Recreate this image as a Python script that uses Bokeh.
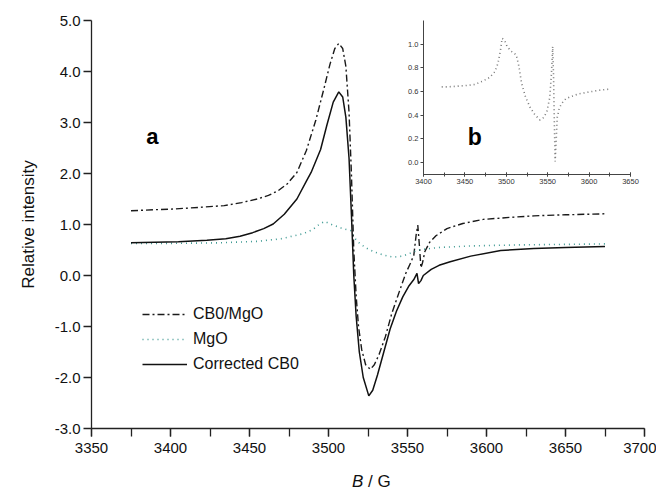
from bokeh.plotting import figure
from bokeh.models import (Range1d, SingleIntervalTicker, PrintfTickFormatter, Legend,
                          LegendItem, Label, GridBox, Div)
from bokeh.embed import file_html
from bokeh.resources import INLINE

FONT = "Liberation Sans"

# ---------------- data ----------------
cb0_mgo_B = [3375, 3390, 3400, 3420, 3434, 3445, 3455, 3462, 3468, 3474, 3480, 3486,
             3492, 3497, 3501, 3504, 3506.5, 3509, 3511, 3513, 3514.5, 3516, 3517.5,
             3519, 3521, 3523.5, 3526.5, 3529, 3532, 3536, 3540, 3545, 3549, 3552,
             3554, 3555.5, 3556.5, 3557.5, 3558.5, 3559.5, 3561, 3564, 3568, 3575,
             3585, 3598, 3615, 3630, 3650, 3675]
cb0_mgo_I = [1.27, 1.29, 1.30, 1.34, 1.37, 1.43, 1.50, 1.57, 1.66, 1.80, 2.02, 2.45,
             3.05, 3.65, 4.15, 4.45, 4.55, 4.45, 4.10, 3.20, 2.00, 0.50, -0.40,
             -1.00, -1.45, -1.75, -1.84, -1.75, -1.55, -1.20, -0.75, -0.30, 0.05, 0.25,
             0.40, 0.80, 0.99, 0.60, 0.15, 0.25, 0.47, 0.65, 0.78, 0.92,
             1.02, 1.10, 1.14, 1.17, 1.19, 1.21]

corrected_B = [3375, 3390, 3405, 3423, 3435, 3444, 3452, 3459, 3465, 3472, 3480, 3486,
               3489, 3495, 3499, 3503, 3506.5, 3509, 3511, 3513, 3514.5, 3516, 3517.5,
               3519.5, 3522, 3525.5, 3528, 3531, 3535, 3539, 3543, 3547, 3551, 3554,
               3556, 3557, 3558.5, 3560, 3565, 3570, 3577, 3590, 3609, 3630, 3650, 3675]
corrected_I = [0.64, 0.65, 0.66, 0.69, 0.72, 0.77, 0.84, 0.92, 1.01, 1.20, 1.50, 1.85,
               2.02, 2.47, 2.95, 3.40, 3.60, 3.50, 3.10, 2.30, 1.20, 0.00, -0.80,
               -1.50, -2.00, -2.36, -2.25, -1.95, -1.50, -1.05, -0.70, -0.42, -0.20, -0.08,
               0.04, -0.16, -0.10, 0.00, 0.12, 0.20, 0.27, 0.38, 0.49, 0.53, 0.55, 0.57]

mgo_B = [3375, 3400, 3430, 3455, 3470, 3484, 3490, 3494, 3497.5, 3502, 3508, 3514,
         3516, 3520, 3525, 3530, 3535, 3541, 3547, 3552, 3557, 3562, 3570, 3590,
         3620, 3650, 3675]
mgo_I = [0.63, 0.63, 0.64, 0.67, 0.72, 0.82, 0.90, 1.00, 1.06, 1.00, 0.93, 0.88,
         0.75, 0.62, 0.52, 0.45, 0.40, 0.36, 0.38, 0.44, 0.50, 0.52, 0.55, 0.58,
         0.60, 0.61, 0.62]

inset_B = [3422, 3430, 3440, 3450, 3462, 3472, 3480, 3486.5, 3490, 3493, 3495, 3498,
           3501, 3506, 3512, 3515, 3518.5, 3523, 3528.5, 3534, 3540.5, 3545, 3549,
           3552.5, 3554.5, 3556, 3557, 3558, 3559, 3560, 3561.5, 3564, 3567, 3572,
           3579, 3587, 3595, 3603, 3611, 3617, 3624]
inset_I = [0.64, 0.64, 0.645, 0.65, 0.66, 0.69, 0.72, 0.77, 0.84, 0.95, 1.05, 1.03,
           0.98, 0.94, 0.91, 0.82, 0.67, 0.56, 0.47, 0.41, 0.36, 0.38, 0.43,
           0.55, 0.75, 0.98, 0.75, 0.35, 0.01, 0.15, 0.38, 0.46, 0.50, 0.54,
           0.56, 0.58, 0.59, 0.60, 0.61, 0.615, 0.62]

legend_labels = ["CB0/MgO", "MgO", "Corrected CB0"]

# ---------------- main figure ----------------
p = figure(width=656, height=466, output_backend="svg", toolbar_location=None,
           x_range=Range1d(3350, 3700), y_range=Range1d(-3.0, 5.0),
           min_border_left=91, min_border_right=12, min_border_top=18, min_border_bottom=38)
p.outline_line_color = None
p.grid.visible = False
p.background_fill_color = "white"
p.border_fill_color = "white"

r1 = p.line(cb0_mgo_B, cb0_mgo_I, line_color="#1a1a1a", line_width=1.4, line_dash="7 3 2 3")
r2 = p.line(mgo_B, mgo_I, line_color="#3f9a93", line_width=1.6, line_dash="1 4")
r3 = p.line(corrected_B, corrected_I, line_color="#111111", line_width=1.5)

for ax in (p.xaxis[0], p.yaxis[0]):
    ax.axis_line_color = "#222222"
    ax.axis_line_width = 1.3
    ax.major_tick_line_color = "#222222"
    ax.major_tick_line_width = 1.3
    ax.major_tick_in = 0
    ax.major_tick_out = 8
    ax.major_label_text_font = FONT
    ax.major_label_text_font_size = "15px"
    ax.major_label_text_color = "#111111"

p.xaxis.ticker = SingleIntervalTicker(interval=50, num_minor_ticks=2)
p.xaxis.minor_tick_in = 0
p.xaxis.minor_tick_out = 8
p.xaxis.minor_tick_line_color = "#222222"
p.xaxis.minor_tick_line_width = 1.3
p.xaxis.major_label_standoff = 6

p.yaxis.ticker = SingleIntervalTicker(interval=1.0, num_minor_ticks=0)
p.yaxis.minor_tick_line_color = None
p.yaxis.formatter = PrintfTickFormatter(format="%.1f")
p.yaxis.major_label_standoff = 3
p.yaxis.axis_label = "Relative intensity"
p.yaxis.axis_label_text_font = FONT
p.yaxis.axis_label_text_font_style = "normal"
p.yaxis.axis_label_text_font_size = "17px"
p.yaxis.axis_label_text_color = "#111111"
p.yaxis.axis_label_standoff = 14

# panel letter
p.add_layout(Label(x=3388.6, y=2.72, text="a", text_align="center", text_baseline="middle",
                   text_font=FONT, text_font_style="bold", text_font_size="22px",
                   text_color="#000000"))

legend = Legend(items=[LegendItem(label=legend_labels[0], renderers=[r1]),
                       LegendItem(label=legend_labels[1], renderers=[r2]),
                       LegendItem(label=legend_labels[2], renderers=[r3])],
                location=(51, 54), padding=0, margin=0, spacing=5,
                glyph_width=45, glyph_height=20, label_height=20, label_standoff=6,
                label_text_font=FONT, label_text_font_size="16px",
                label_text_color="#111111", border_line_alpha=0,
                background_fill_alpha=0)
p.add_layout(legend)

# x axis title "B / G" with italic B (HTML text under the plot)
xtitle = Div(text='<span style="font-style:italic">B</span> / G', width=656, height=22,
             styles={"font-family": FONT, "font-size": "17px", "color": "#111111",
                     "line-height": "22px", "padding-left": "347px"})

# ---------------- inset figure ----------------
ins = figure(width=244, height=194, output_backend="svg", toolbar_location=None,
             x_range=Range1d(3400, 3650), y_range=Range1d(-0.1, 1.2),
             min_border_left=25, min_border_right=10, min_border_top=20, min_border_bottom=20)
ins.outline_line_color = None
ins.grid.visible = False
ins.background_fill_alpha = 0
ins.border_fill_alpha = 0

ins.line(inset_B, inset_I, line_color="#7a7a7a", line_width=1.6, line_dash="1 3")

for ax in (ins.xaxis[0], ins.yaxis[0]):
    ax.axis_line_color = "#444444"
    ax.axis_line_width = 1
    ax.major_tick_line_color = "#444444"
    ax.major_tick_in = 0
    ax.major_tick_out = 3
    ax.major_label_text_font = FONT
    ax.major_label_text_font_size = "7.5px"
    ax.major_label_text_color = "#333333"
    ax.major_label_standoff = 2

ins.xaxis.ticker = SingleIntervalTicker(interval=50, num_minor_ticks=2)
ins.xaxis.major_tick_in = 2
ins.xaxis.major_tick_out = 2
ins.xaxis.minor_tick_in = 2
ins.xaxis.minor_tick_out = 2
ins.xaxis.minor_tick_line_color = "#444444"
ins.yaxis.ticker = SingleIntervalTicker(interval=0.2, num_minor_ticks=0)
ins.yaxis.minor_tick_line_color = None
ins.yaxis.formatter = PrintfTickFormatter(format="%.1f")

ins.add_layout(Label(x=3462, y=0.22, text="b", text_align="center", text_baseline="middle",
                     text_font=FONT, text_font_style="bold", text_font_size="23px",
                     text_color="#000000"))

grid = GridBox(children=[(p, 0, 0, 2, 2), (ins, 0, 1, 1, 1), (xtitle, 2, 0, 1, 2)],
               cols=["398px", "258px"], rows=["194px", "272px", "22px"], spacing=0)

open("out.html", "w").write(file_html(grid, INLINE))
